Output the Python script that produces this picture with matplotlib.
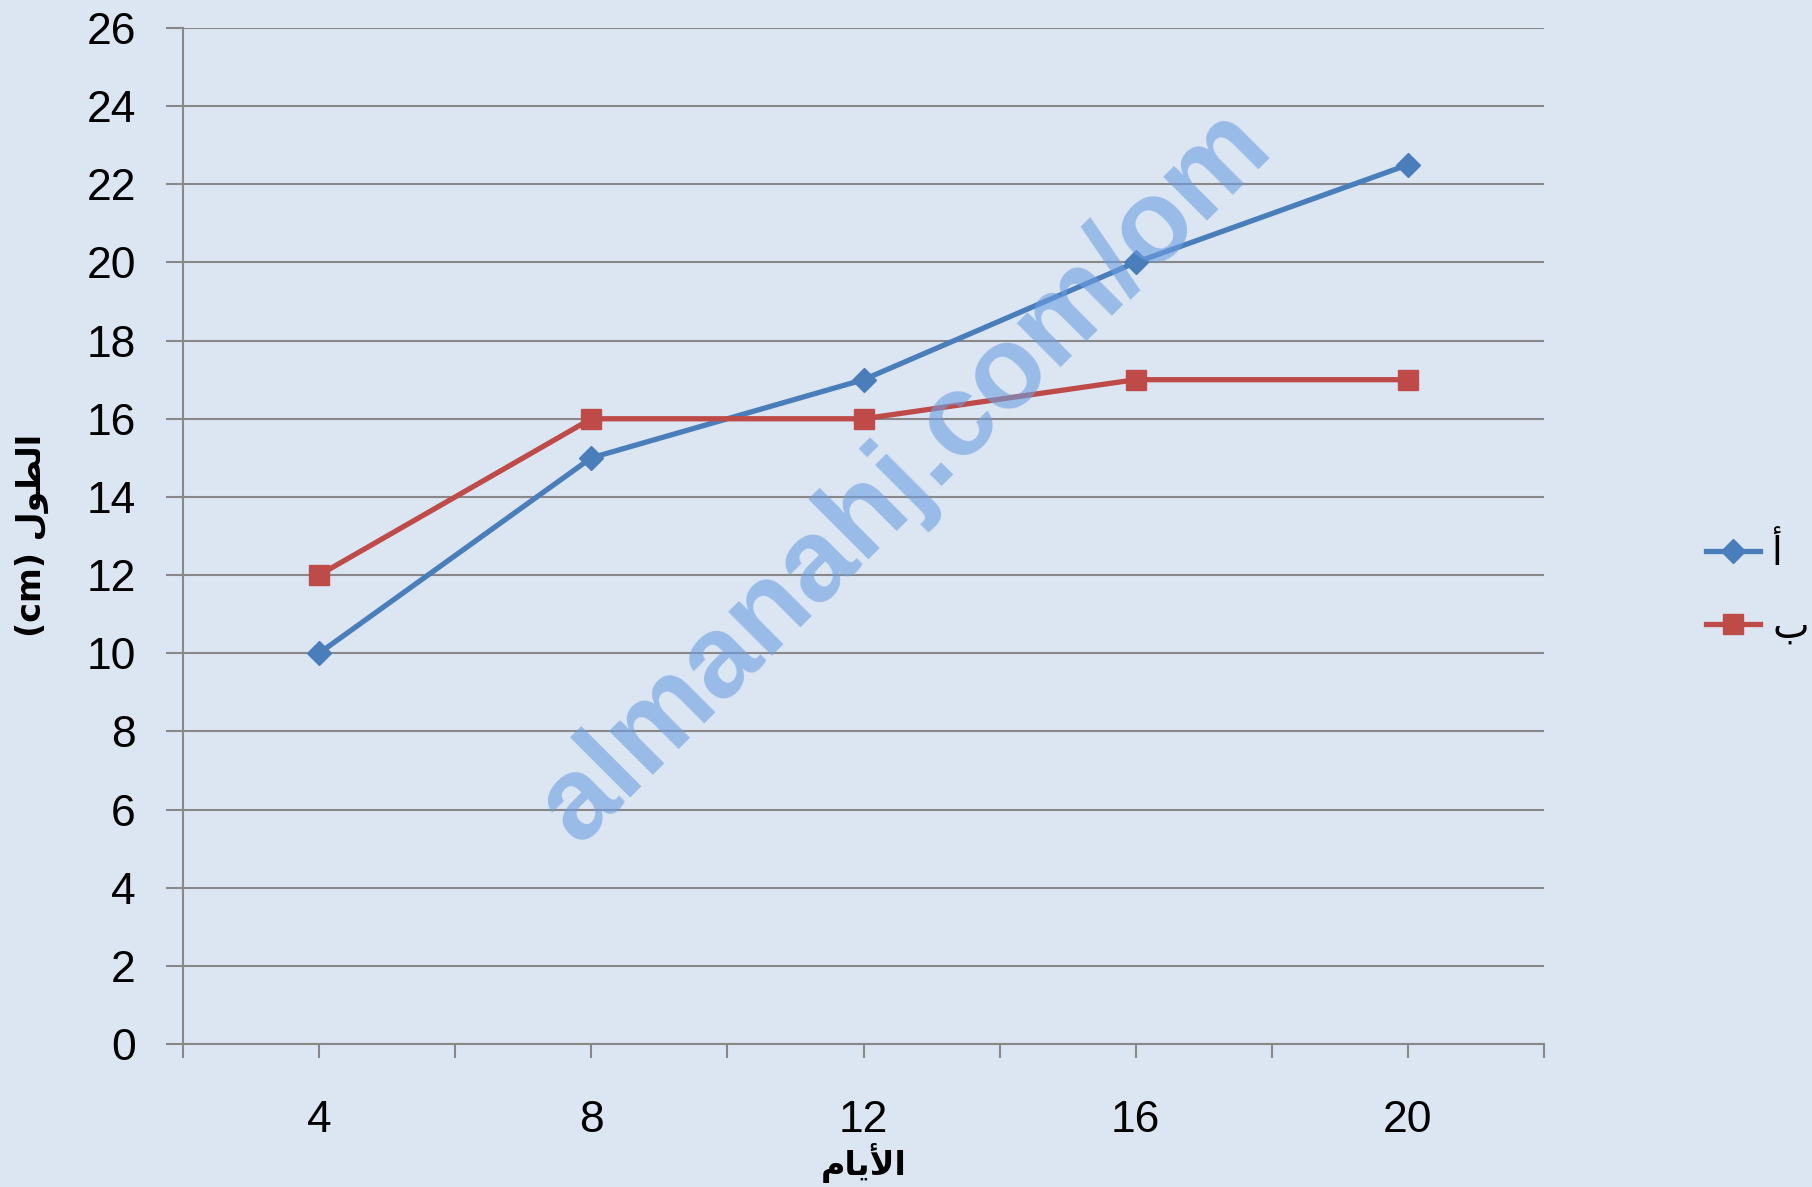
import matplotlib
matplotlib.use('Agg')
import matplotlib.pyplot as plt
from matplotlib.ticker import MultipleLocator, FixedLocator

# data
days = [4, 8, 12, 16, 20]
series_a = [10, 15, 17, 20, 22.5]
series_b = [12, 16, 16, 17, 17]

name_a = '\u0623'   # أ
name_b = '\u0628'   # ب
# Arabic labels written in display order with presentation forms (matplotlib has no shaping)
y_label = '(cm) \uFEDD\uFEEE\uFEC4\uFEDF\uFE8D'   # الطول (cm)
x_label = '\uFEE1\uFE8E\uFEF3\uFEF7\uFE8D'        # الأيام
watermark = 'almanahj.com/om'

bg = '#dce6f2'
grid_col = '#888888'
blue = '#4a7ebb'
red = '#be4b48'
fonts = ['Liberation Sans', 'DejaVu Sans']

fig = plt.figure(figsize=(18.12, 11.87), dpi=100, facecolor=bg)
ax = fig.add_axes([183 / 1812, 1 - 1044 / 1187, (1544 - 183) / 1812, (1044 - 28) / 1187])
ax.set_facecolor(bg)

pos = list(range(len(days)))
ax.plot(pos, series_a, color=blue, lw=3.8, marker='D', ms=12, label=name_a, zorder=3)
ax.plot(pos, series_b, color=red, lw=3.8, marker='s', ms=14, label=name_b, zorder=3)

ax.set_xlim(-0.5, len(days) - 0.5)
ax.set_ylim(0, 26)
ax.yaxis.set_major_locator(MultipleLocator(2))
ax.set_xticks(pos)
ax.set_xticklabels([str(d) for d in days])
ax.xaxis.set_minor_locator(FixedLocator([p - 0.5 for p in pos] + [pos[-1] + 0.5]))

ax.grid(axis='y', color=grid_col, lw=1.5)
ax.set_axisbelow(True)
for s in ['top', 'right']:
    ax.spines[s].set_visible(False)
for s in ['left', 'bottom']:
    ax.spines[s].set_color(grid_col)
    ax.spines[s].set_linewidth(1.5)

ax.tick_params(axis='y', which='major', length=12, width=1.5, color=grid_col, pad=22,
               labelsize=32)
ax.tick_params(axis='x', which='both', length=10, width=1.5, color=grid_col, pad=30,
               labelsize=32)
for lab in ax.get_xticklabels() + ax.get_yticklabels():
    lab.set_family(fonts)

fig.text(32 / 1812, 1 - 535 / 1187, y_label, rotation=90, ha='center', va='center',
         fontsize=24, fontweight='bold', family=['DejaVu Sans'])
fig.text(864 / 1812, 1 - 1163 / 1187, x_label, ha='center', va='center',
         fontsize=24, fontweight='bold', family=['DejaVu Sans'])

fig.text(905 / 1812, 1 - 476 / 1187, watermark, rotation=45, ha='center', va='center',
         fontsize=84, fontweight='bold', family=fonts, color='#6c9ee0', alpha=0.6,
         zorder=10)

leg = ax.legend(loc='center left', bbox_to_anchor=(1706 / 1812, 1 - 590 / 1187),
                bbox_transform=fig.transFigure, frameon=False,
                handlelength=1.4, labelspacing=0.9, handletextpad=0.3,
                borderpad=0, borderaxespad=0,
                prop={'family': 'DejaVu Sans', 'size': 28})

fig.savefig('out.png', dpi=100, facecolor=bg)
